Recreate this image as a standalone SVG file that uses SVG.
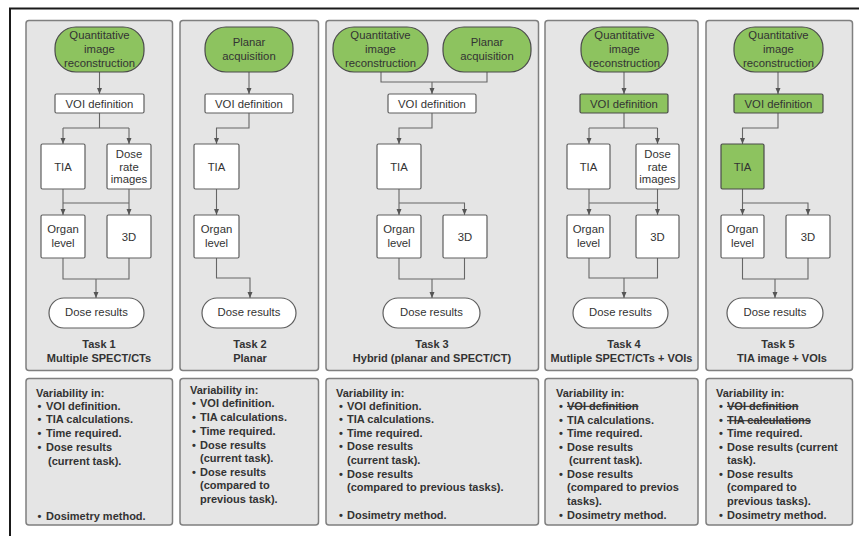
<svg xmlns="http://www.w3.org/2000/svg" width="859" height="536" viewBox="0 0 859 536">
<style>
.panel{fill:#e5e5e5;stroke:#7f7f7f;stroke-width:1.5}
.green{fill:#8dc35f;stroke:#4a4a4a;stroke-width:1.2}
.white{fill:#fff;stroke:#5e5e5e;stroke-width:1.2}
.t{font-family:"Liberation Sans",Arial,sans-serif;font-size:11.3px;fill:#333;text-anchor:middle}
.b{font-family:"Liberation Sans",Arial,sans-serif;font-size:11px;font-weight:bold;fill:#333;text-anchor:middle}
.l{font-family:"Liberation Sans",Arial,sans-serif;font-size:11px;font-weight:bold;fill:#333}
.s{text-decoration:line-through}
.c{fill:none;stroke:#666;stroke-width:1.1}
.a{fill:none;stroke:#666;stroke-width:1.1;marker-end:url(#arr)}
</style>
<defs>
<marker id="arr" markerUnits="userSpaceOnUse" markerWidth="6" markerHeight="6" viewBox="0 0 6 6" refX="6" refY="3" orient="auto">
<path d="M0,0.5 L6,3 L0,5.5 Z" fill="#555"/>
</marker>
</defs>
<rect width="859" height="536" fill="#fff"/>
<path d="M10,536 V8.5 H859" fill="none" stroke="#1a1a1a" stroke-width="2"/>

<g id="panels">
<rect class="panel" x="26" y="20.5" width="146.5" height="350" rx="3"/>
<rect class="panel" x="180" y="20.5" width="138.5" height="350" rx="3"/>
<rect class="panel" x="326" y="20.5" width="212.5" height="350" rx="3"/>
<rect class="panel" x="545" y="20.5" width="153" height="350" rx="3"/>
<rect class="panel" x="706" y="20.5" width="146.5" height="350" rx="3"/>
<rect class="panel" x="26" y="378.5" width="146.5" height="146.5" rx="3"/>
<rect class="panel" x="180" y="378.5" width="138.5" height="146.5" rx="3"/>
<rect class="panel" x="326" y="378.5" width="212.5" height="146.5" rx="3"/>
<rect class="panel" x="545" y="378.5" width="153" height="146.5" rx="3"/>
<rect class="panel" x="706" y="378.5" width="146.5" height="146.5" rx="3"/>
</g>

<g id="connectors">
<!-- panel 1 -->
<path class="a" d="M99.5,72 V94"/>
<path class="c" d="M99.5,113 V128 M63,128 H129"/>
<path class="a" d="M63,128 V144"/>
<path class="a" d="M129,128 V144"/>
<path class="a" d="M63,189 V215"/>
<path class="a" d="M129,189 V215"/>
<path class="c" d="M63,203 H129"/>
<path class="c" d="M63,258 V279 H129 V258"/>
<path class="a" d="M96,279 V298"/>
<!-- panel 2 -->
<path class="a" d="M249,72 V94"/>
<path class="a" d="M249,113 V128 H216.5 V144"/>
<path class="a" d="M216.5,189 V215"/>
<path class="a" d="M216.5,258 V278 H250 V298"/>
<!-- panel 3 -->
<path class="c" d="M381,72 V82 H487 V72"/>
<path class="a" d="M432,82 V94"/>
<path class="a" d="M432,113 V128 H399 V144"/>
<path class="a" d="M399,189 V215"/>
<path class="a" d="M399,203 H464.5 V215"/>
<path class="c" d="M399,258 V279 H464.5 V258"/>
<path class="a" d="M432,279 V298"/>
<!-- panel 4 -->
<path class="a" d="M624,72 V94"/>
<path class="c" d="M624,113 V128 M589,128 H657.5"/>
<path class="a" d="M589,128 V144"/>
<path class="a" d="M657.5,128 V144"/>
<path class="a" d="M589,189 V215"/>
<path class="a" d="M657.5,189 V215"/>
<path class="c" d="M589,203 H657.5"/>
<path class="c" d="M589,258 V278 H657.5 V258"/>
<path class="a" d="M624,278 V298"/>
<!-- panel 5 -->
<path class="a" d="M778,72 V94"/>
<path class="a" d="M778,113 V128 H742.5 V144"/>
<path class="a" d="M742.5,189 V215"/>
<path class="a" d="M742.5,203 H808 V215"/>
<path class="c" d="M742.5,258 V279 H808 V258"/>
<path class="a" d="M775,279 V298"/>
</g>

<!-- Panel 1 nodes -->
<g id="t1-qir"><rect class="green" x="55" y="27" width="89" height="45" rx="21"/>
<text class="t" x="99.5" y="39">Quantitative</text><text class="t" x="99.5" y="53">image</text><text class="t" x="99.5" y="66.7">reconstruction</text></g>
<g id="t1-voi"><rect class="white" x="55" y="94" width="89" height="19" rx="1.5"/><text class="t" x="99.5" y="107.8">VOI definition</text></g>
<g id="t1-tia"><rect class="white" x="41" y="144" width="44" height="45" rx="1.5"/><text class="t" x="63" y="170.7">TIA</text></g>
<g id="t1-dri"><rect class="white" x="107" y="144" width="44" height="45" rx="1.5"/>
<text class="t" x="129" y="158.3">Dose</text><text class="t" x="129" y="170.7">rate</text><text class="t" x="129" y="183">images</text></g>
<g id="t1-organ"><rect class="white" x="41" y="215" width="44" height="43" rx="1.5"/>
<text class="t" x="63" y="233.3">Organ</text><text class="t" x="63" y="246.7">level</text></g>
<g id="t1-3d"><rect class="white" x="107" y="215" width="44" height="43" rx="1.5"/><text class="t" x="129" y="240.7">3D</text></g>
<g id="t1-dose"><rect class="white" x="49" y="298" width="95" height="30" rx="15"/><text class="t" x="96.5" y="315.7">Dose results</text></g>
<g id="t1-label"><text class="b" x="99" y="348">Task 1</text><text class="b" x="99" y="362">Multiple SPECT/CTs</text></g>

<!-- Panel 2 nodes -->
<g id="t2-pa"><rect class="green" x="205" y="27" width="88" height="45" rx="21"/>
<text class="t" x="249" y="46">Planar</text><text class="t" x="249" y="59.5">acquisition</text></g>
<g id="t2-voi"><rect class="white" x="205" y="94" width="88" height="19" rx="1.5"/><text class="t" x="249" y="107.8">VOI definition</text></g>
<g id="t2-tia"><rect class="white" x="194" y="144" width="45" height="45" rx="1.5"/><text class="t" x="216.5" y="170.7">TIA</text></g>
<g id="t2-organ"><rect class="white" x="194" y="215" width="45" height="43" rx="1.5"/>
<text class="t" x="216.5" y="233.3">Organ</text><text class="t" x="216.5" y="246.7">level</text></g>
<g id="t2-dose"><rect class="white" x="202" y="298" width="94" height="30" rx="15"/><text class="t" x="249" y="315.7">Dose results</text></g>
<g id="t2-label"><text class="b" x="250" y="348">Task 2</text><text class="b" x="250" y="362">Planar</text></g>

<!-- Panel 3 nodes -->
<g id="t3-qir"><rect class="green" x="333" y="27" width="95" height="45" rx="21"/>
<text class="t" x="380.5" y="39">Quantitative</text><text class="t" x="380.5" y="53">image</text><text class="t" x="380.5" y="66.7">reconstruction</text></g>
<g id="t3-pa"><rect class="green" x="443" y="27" width="88" height="45" rx="21"/>
<text class="t" x="487" y="46">Planar</text><text class="t" x="487" y="59.5">acquisition</text></g>
<g id="t3-voi"><rect class="white" x="388" y="94" width="88" height="19" rx="1.5"/><text class="t" x="432" y="107.8">VOI definition</text></g>
<g id="t3-tia"><rect class="white" x="377" y="144" width="44" height="45" rx="1.5"/><text class="t" x="399" y="170.7">TIA</text></g>
<g id="t3-organ"><rect class="white" x="377" y="215" width="44" height="43" rx="1.5"/>
<text class="t" x="399" y="233.3">Organ</text><text class="t" x="399" y="246.7">level</text></g>
<g id="t3-3d"><rect class="white" x="443" y="215" width="44" height="43" rx="1.5"/><text class="t" x="465" y="240.7">3D</text></g>
<g id="t3-dose"><rect class="white" x="383" y="298" width="97" height="30" rx="15"/><text class="t" x="431.5" y="315.7">Dose results</text></g>
<g id="t3-label"><text class="b" x="432" y="348">Task 3</text><text class="b" x="432" y="362">Hybrid (planar and SPECT/CT)</text></g>

<!-- Panel 4 nodes -->
<g id="t4-qir"><rect class="green" x="581" y="27" width="87" height="45" rx="21"/>
<text class="t" x="624.5" y="39">Quantitative</text><text class="t" x="624.5" y="53">image</text><text class="t" x="624.5" y="66.7">reconstruction</text></g>
<g id="t4-voi"><rect class="green" x="580" y="94" width="88" height="19" rx="1.5"/><text class="t" x="624" y="107.8">VOI definition</text></g>
<g id="t4-tia"><rect class="white" x="567" y="144" width="43" height="45" rx="1.5"/><text class="t" x="588.5" y="170.7">TIA</text></g>
<g id="t4-dri"><rect class="white" x="636" y="144" width="43" height="45" rx="1.5"/>
<text class="t" x="657.5" y="158.3">Dose</text><text class="t" x="657.5" y="170.7">rate</text><text class="t" x="657.5" y="183">images</text></g>
<g id="t4-organ"><rect class="white" x="567" y="215" width="43" height="43" rx="1.5"/>
<text class="t" x="588.5" y="233.3">Organ</text><text class="t" x="588.5" y="246.7">level</text></g>
<g id="t4-3d"><rect class="white" x="636" y="215" width="43" height="43" rx="1.5"/><text class="t" x="657.5" y="240.7">3D</text></g>
<g id="t4-dose"><rect class="white" x="573" y="298" width="95" height="30" rx="15"/><text class="t" x="620.5" y="315.7">Dose results</text></g>
<g id="t4-label"><text class="b" x="624" y="348">Task 4</text><text class="b" x="621.5" y="362">Mutliple SPECT/CTs + VOIs</text></g>

<!-- Panel 5 nodes -->
<g id="t5-qir"><rect class="green" x="734" y="27" width="89" height="45" rx="21"/>
<text class="t" x="778.5" y="39">Quantitative</text><text class="t" x="778.5" y="53">image</text><text class="t" x="778.5" y="66.7">reconstruction</text></g>
<g id="t5-voi"><rect class="green" x="734" y="94" width="89" height="19" rx="1.5"/><text class="t" x="778.5" y="107.8">VOI definition</text></g>
<g id="t5-tia"><rect class="green" x="721" y="144" width="43" height="45" rx="1.5"/><text class="t" x="742.5" y="170.7">TIA</text></g>
<g id="t5-organ"><rect class="white" x="721" y="215" width="43" height="43" rx="1.5"/>
<text class="t" x="742.5" y="233.3">Organ</text><text class="t" x="742.5" y="246.7">level</text></g>
<g id="t5-3d"><rect class="white" x="786" y="215" width="44" height="43" rx="1.5"/><text class="t" x="808" y="240.7">3D</text></g>
<g id="t5-dose"><rect class="white" x="727" y="298" width="96" height="30" rx="15"/><text class="t" x="775" y="315.7">Dose results</text></g>
<g id="t5-label"><text class="b" x="778" y="348">Task 5</text><text class="b" x="782" y="362">TIA image + VOIs</text></g>

<!-- Variability panels -->
<g id="v1">
<text class="l" x="36" y="397.3">Variability in:</text>
<text class="l" x="37.5" y="409.7">•</text><text class="l" x="46" y="409.7">VOI definition.</text>
<text class="l" x="37.5" y="423.3">•</text><text class="l" x="46" y="423.3">TIA calculations.</text>
<text class="l" x="37.5" y="437.3">•</text><text class="l" x="46" y="437.3">Time required.</text>
<text class="l" x="37.5" y="451.3">•</text><text class="l" x="46" y="451.3">Dose results</text>
<text class="l" x="48" y="465">(current task).</text>
<text class="l" x="37.5" y="519.7">•</text><text class="l" x="46" y="519.7">Dosimetry method.</text>
</g>
<g id="v2">
<text class="l" x="190" y="394">Variability in:</text>
<text class="l" x="192" y="407.3">•</text><text class="l" x="200" y="407.3">VOI definition.</text>
<text class="l" x="192" y="421.3">•</text><text class="l" x="200" y="421.3">TIA calculations.</text>
<text class="l" x="192" y="435">•</text><text class="l" x="200" y="435">Time required.</text>
<text class="l" x="192" y="449">•</text><text class="l" x="200" y="449">Dose results</text>
<text class="l" x="200" y="462.3">(current task).</text>
<text class="l" x="192" y="475.7">•</text><text class="l" x="200" y="475.7">Dose results</text>
<text class="l" x="200" y="489">(compared to</text>
<text class="l" x="200" y="503">previous task).</text>
</g>
<g id="v3">
<text class="l" x="336" y="396.7">Variability in:</text>
<text class="l" x="339" y="409.7">•</text><text class="l" x="347" y="409.7">VOI definition.</text>
<text class="l" x="339" y="423.3">•</text><text class="l" x="347" y="423.3">TIA calculations.</text>
<text class="l" x="339" y="436.7">•</text><text class="l" x="347" y="436.7">Time required.</text>
<text class="l" x="339" y="450">•</text><text class="l" x="347" y="450">Dose results</text>
<text class="l" x="347" y="464">(current task).</text>
<text class="l" x="339" y="478">•</text><text class="l" x="347" y="478">Dose results</text>
<text class="l" x="347" y="491.3">(compared to previous tasks).</text>
<text class="l" x="339" y="519">•</text><text class="l" x="347" y="519">Dosimetry method.</text>
</g>
<g id="v4">
<text class="l" x="556" y="397.3">Variability in:</text>
<text class="l" x="559" y="409.7">•</text><text class="l s" x="567" y="409.7">VOI definition</text>
<text class="l" x="559" y="424">•</text><text class="l" x="567" y="424">TIA calculations.</text>
<text class="l" x="559" y="437.3">•</text><text class="l" x="567" y="437.3">Time required.</text>
<text class="l" x="559" y="450.7">•</text><text class="l" x="567" y="450.7">Dose results</text>
<text class="l" x="569" y="464">(current task).</text>
<text class="l" x="559" y="478">•</text><text class="l" x="567" y="478">Dose results</text>
<text class="l" x="567" y="491.3">(compared to previos</text>
<text class="l" x="567" y="505">tasks).</text>
<text class="l" x="559" y="519">•</text><text class="l" x="567" y="519">Dosimetry method.</text>
</g>
<g id="v5">
<text class="l" x="716" y="397.3">Variability in:</text>
<text class="l" x="719" y="409.7">•</text><text class="l s" x="727" y="409.7">VOI definition</text>
<text class="l" x="719" y="424">•</text><text class="l s" x="727" y="424">TIA calculations</text>
<text class="l" x="719" y="437.3">•</text><text class="l" x="727" y="437.3">Time required.</text>
<text class="l" x="719" y="450.7">•</text><text class="l" x="727" y="450.7">Dose results (current</text>
<text class="l" x="727" y="464">task).</text>
<text class="l" x="719" y="478">•</text><text class="l" x="727" y="478">Dose results</text>
<text class="l" x="727" y="491.3">(compared to</text>
<text class="l" x="727" y="505">previous tasks).</text>
<text class="l" x="719" y="519">•</text><text class="l" x="727" y="519">Dosimetry method.</text>
</g>
</svg>
